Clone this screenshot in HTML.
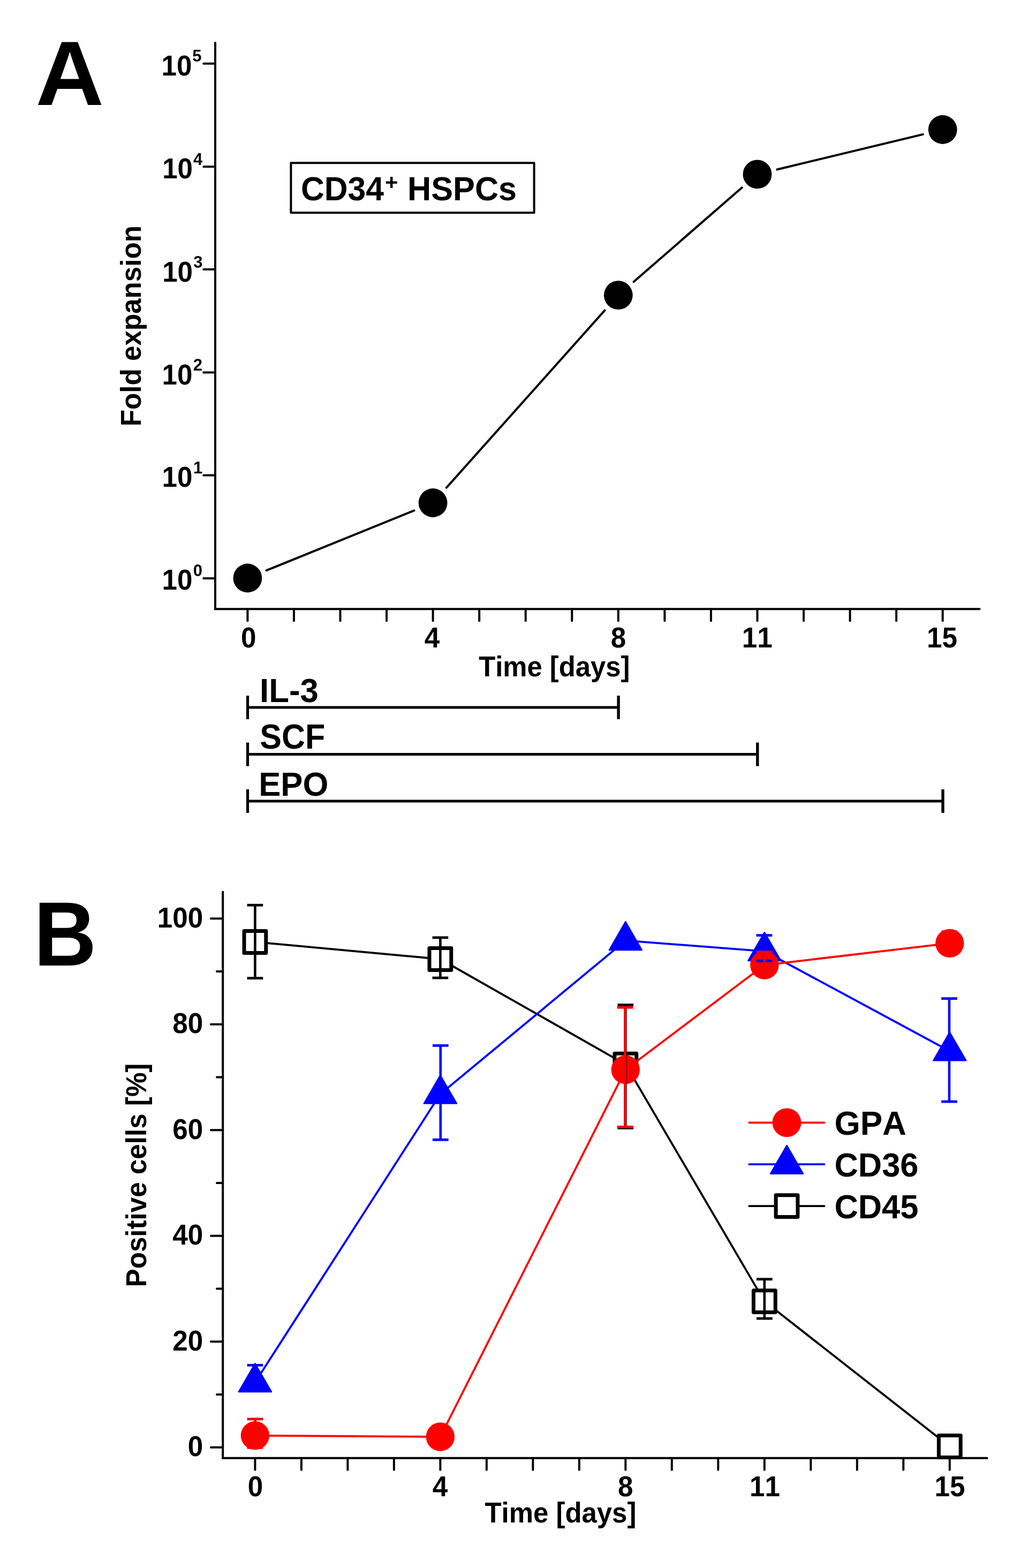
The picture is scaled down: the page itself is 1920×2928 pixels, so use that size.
<!DOCTYPE html>
<html><head><meta charset="utf-8"><title>Figure</title>
<style>html,body{margin:0;padding:0;background:#fff;}svg{display:block;}</style>
</head><body>
<svg width="1920" height="2928" viewBox="0 0 1920 2928" style="font-family:'Liberation Sans',sans-serif;font-weight:bold;font-kerning:none">
<rect width="1920" height="2928" fill="#fff"/>
<text transform="translate(66.40,196.00) scale(1.0290,1)" font-size="171.66" fill="#000">A</text>
<path d="M402.0,80.0 L402.0,1137.2 L1829.5,1137.2" fill="none" stroke="#000" stroke-width="4" stroke-linecap="round" stroke-linejoin="miter"/>
<line x1="380.20" y1="1080.00" x2="402.00" y2="1080.00" stroke="#000" stroke-width="4" stroke-linecap="round"/>
<text transform="translate(302.44,1100.90) scale(0.9500,1)" font-size="53.90" fill="#000">10</text>
<text transform="translate(360.77,1076.00) scale(0.9700,1)" font-size="32.00" fill="#000">0</text>
<line x1="380.20" y1="887.50" x2="402.00" y2="887.50" stroke="#000" stroke-width="4" stroke-linecap="round"/>
<text transform="translate(302.44,908.80) scale(0.9500,1)" font-size="53.90" fill="#000">10</text>
<text transform="translate(360.88,883.80) scale(0.9700,1)" font-size="32.00" fill="#000">1</text>
<line x1="380.20" y1="695.40" x2="402.00" y2="695.40" stroke="#000" stroke-width="4" stroke-linecap="round"/>
<text transform="translate(302.44,717.70) scale(0.9500,1)" font-size="53.90" fill="#000">10</text>
<text transform="translate(360.82,691.60) scale(0.9700,1)" font-size="32.00" fill="#000">2</text>
<line x1="380.20" y1="503.10" x2="402.00" y2="503.10" stroke="#000" stroke-width="4" stroke-linecap="round"/>
<text transform="translate(303.14,525.80) scale(0.9500,1)" font-size="53.90" fill="#000">10</text>
<text transform="translate(361.29,499.50) scale(0.9700,1)" font-size="32.00" fill="#000">3</text>
<line x1="380.20" y1="311.20" x2="402.00" y2="311.20" stroke="#000" stroke-width="4" stroke-linecap="round"/>
<text transform="translate(303.14,332.90) scale(0.9500,1)" font-size="53.90" fill="#000">10</text>
<text transform="translate(361.03,307.50) scale(0.9700,1)" font-size="32.00" fill="#000">4</text>
<line x1="380.20" y1="118.70" x2="402.00" y2="118.70" stroke="#000" stroke-width="4" stroke-linecap="round"/>
<text transform="translate(301.54,140.90) scale(0.9500,1)" font-size="53.90" fill="#000">10</text>
<text transform="translate(359.15,115.10) scale(0.9700,1)" font-size="32.00" fill="#000">5</text>
<line x1="462.40" y1="1137.20" x2="462.40" y2="1159.20" stroke="#000" stroke-width="4" stroke-linecap="round"/>
<line x1="548.95" y1="1137.20" x2="548.95" y2="1159.20" stroke="#000" stroke-width="4" stroke-linecap="round"/>
<line x1="635.50" y1="1137.20" x2="635.50" y2="1159.20" stroke="#000" stroke-width="4" stroke-linecap="round"/>
<line x1="722.05" y1="1137.20" x2="722.05" y2="1159.20" stroke="#000" stroke-width="4" stroke-linecap="round"/>
<line x1="808.60" y1="1137.20" x2="808.60" y2="1159.20" stroke="#000" stroke-width="4" stroke-linecap="round"/>
<line x1="895.15" y1="1137.20" x2="895.15" y2="1159.20" stroke="#000" stroke-width="4" stroke-linecap="round"/>
<line x1="981.70" y1="1137.20" x2="981.70" y2="1159.20" stroke="#000" stroke-width="4" stroke-linecap="round"/>
<line x1="1068.25" y1="1137.20" x2="1068.25" y2="1159.20" stroke="#000" stroke-width="4" stroke-linecap="round"/>
<line x1="1154.80" y1="1137.20" x2="1154.80" y2="1159.20" stroke="#000" stroke-width="4" stroke-linecap="round"/>
<line x1="1241.35" y1="1137.20" x2="1241.35" y2="1159.20" stroke="#000" stroke-width="4" stroke-linecap="round"/>
<line x1="1327.90" y1="1137.20" x2="1327.90" y2="1159.20" stroke="#000" stroke-width="4" stroke-linecap="round"/>
<line x1="1414.45" y1="1137.20" x2="1414.45" y2="1159.20" stroke="#000" stroke-width="4" stroke-linecap="round"/>
<line x1="1501.00" y1="1137.20" x2="1501.00" y2="1159.20" stroke="#000" stroke-width="4" stroke-linecap="round"/>
<line x1="1587.55" y1="1137.20" x2="1587.55" y2="1159.20" stroke="#000" stroke-width="4" stroke-linecap="round"/>
<line x1="1674.10" y1="1137.20" x2="1674.10" y2="1159.20" stroke="#000" stroke-width="4" stroke-linecap="round"/>
<line x1="1760.65" y1="1137.20" x2="1760.65" y2="1159.20" stroke="#000" stroke-width="4" stroke-linecap="round"/>
<text transform="translate(449.90,1209.00) scale(0.9500,1)" font-size="53.90" fill="#000">0</text>
<text transform="translate(792.71,1209.00) scale(0.9500,1)" font-size="53.90" fill="#000">4</text>
<text transform="translate(1140.64,1209.00) scale(0.9500,1)" font-size="53.90" fill="#000">8</text>
<text transform="translate(1385.72,1209.00) scale(0.9500,1)" font-size="53.90" fill="#000">11</text>
<text transform="translate(1731.08,1209.00) scale(0.9500,1)" font-size="53.90" fill="#000">15</text>
<text transform="translate(894.23,1263.30) scale(0.9367,1)" font-size="54.22" fill="#000">Time [days]</text>
<text transform="translate(263.00,796.22) rotate(-90) scale(0.9541,1)" font-size="53.63" fill="#000">Fold expansion</text>
<rect x="543.4" y="304.3" width="454.2" height="92.9" fill="#fff" stroke="#000" stroke-width="4" stroke-linejoin="round"/>
<text transform="translate(561.91,373.60) scale(0.9574,1)" font-size="63.37" fill="#000">CD34</text>
<text transform="translate(718.95,354.14) scale(1.0127,1)" font-size="41.16" fill="#000">+</text>
<text transform="translate(761.11,373.60) scale(0.9659,1)" font-size="63.37" fill="#000">HSPCs</text>
<line x1="497.61" y1="1065.21" x2="773.39" y2="953.29" stroke="#000" stroke-width="4.0" stroke-linecap="round"/>
<line x1="833.91" y1="910.65" x2="1129.49" y2="579.55" stroke="#000" stroke-width="4.0" stroke-linecap="round"/>
<line x1="1183.47" y1="526.26" x2="1385.78" y2="350.34" stroke="#000" stroke-width="4.0" stroke-linecap="round"/>
<line x1="1451.39" y1="316.50" x2="1723.71" y2="250.90" stroke="#000" stroke-width="4.0" stroke-linecap="round"/>
<circle cx="462.40" cy="1079.50" r="26.9" fill="#000"/>
<circle cx="808.60" cy="939.00" r="26.9" fill="#000"/>
<circle cx="1154.80" cy="551.20" r="26.9" fill="#000"/>
<circle cx="1414.45" cy="325.40" r="26.9" fill="#000"/>
<circle cx="1760.65" cy="242.00" r="26.9" fill="#000"/>
<line x1="462.50" y1="1321.00" x2="1154.80" y2="1321.00" stroke="#000" stroke-width="5" stroke-linecap="butt"/>
<line x1="462.50" y1="1299.00" x2="462.50" y2="1343.00" stroke="#000" stroke-width="5.2" stroke-linecap="butt"/>
<line x1="1155.10" y1="1299.00" x2="1155.10" y2="1343.00" stroke="#000" stroke-width="5.4" stroke-linecap="butt"/>
<text transform="translate(485.07,1310.90) scale(0.9685,1)" font-size="63.81" fill="#000">IL-3</text>
<line x1="462.50" y1="1408.60" x2="1414.45" y2="1408.60" stroke="#000" stroke-width="5" stroke-linecap="butt"/>
<line x1="462.50" y1="1386.60" x2="462.50" y2="1430.60" stroke="#000" stroke-width="5.2" stroke-linecap="butt"/>
<line x1="1414.75" y1="1386.60" x2="1414.75" y2="1430.60" stroke="#000" stroke-width="5.4" stroke-linecap="butt"/>
<text transform="translate(485.24,1397.90) scale(0.9508,1)" font-size="64.10" fill="#000">SCF</text>
<line x1="462.50" y1="1495.90" x2="1760.65" y2="1495.90" stroke="#000" stroke-width="5" stroke-linecap="butt"/>
<line x1="462.50" y1="1473.90" x2="462.50" y2="1517.90" stroke="#000" stroke-width="5.2" stroke-linecap="butt"/>
<line x1="1760.95" y1="1473.90" x2="1760.95" y2="1517.90" stroke="#000" stroke-width="5.4" stroke-linecap="butt"/>
<text transform="translate(483.28,1485.80) scale(0.9655,1)" font-size="63.81" fill="#000">EPO</text>
<text transform="translate(63.03,1802.90) scale(0.9482,1)" font-size="171.37" fill="#000">B</text>
<path d="M416.2,1665.5 L416.2,2722.8 L1843.6,2722.8" fill="none" stroke="#000" stroke-width="4" stroke-linecap="round" stroke-linejoin="miter"/>
<line x1="394.00" y1="2702.70" x2="416.20" y2="2702.70" stroke="#000" stroke-width="4" stroke-linecap="round"/>
<text transform="translate(350.82,2719.10) scale(0.9500,1)" font-size="53.90" fill="#000">0</text>
<line x1="405.00" y1="2603.95" x2="416.20" y2="2603.95" stroke="#000" stroke-width="4" stroke-linecap="round"/>
<line x1="394.00" y1="2505.20" x2="416.20" y2="2505.20" stroke="#000" stroke-width="4" stroke-linecap="round"/>
<text transform="translate(322.34,2521.60) scale(0.9500,1)" font-size="53.90" fill="#000">20</text>
<line x1="405.00" y1="2406.45" x2="416.20" y2="2406.45" stroke="#000" stroke-width="4" stroke-linecap="round"/>
<line x1="394.00" y1="2307.70" x2="416.20" y2="2307.70" stroke="#000" stroke-width="4" stroke-linecap="round"/>
<text transform="translate(322.34,2324.10) scale(0.9500,1)" font-size="53.90" fill="#000">40</text>
<line x1="405.00" y1="2208.95" x2="416.20" y2="2208.95" stroke="#000" stroke-width="4" stroke-linecap="round"/>
<line x1="394.00" y1="2110.20" x2="416.20" y2="2110.20" stroke="#000" stroke-width="4" stroke-linecap="round"/>
<text transform="translate(322.34,2126.60) scale(0.9500,1)" font-size="53.90" fill="#000">60</text>
<line x1="405.00" y1="2011.45" x2="416.20" y2="2011.45" stroke="#000" stroke-width="4" stroke-linecap="round"/>
<line x1="394.00" y1="1912.70" x2="416.20" y2="1912.70" stroke="#000" stroke-width="4" stroke-linecap="round"/>
<text transform="translate(322.34,1929.10) scale(0.9500,1)" font-size="53.90" fill="#000">80</text>
<line x1="405.00" y1="1813.95" x2="416.20" y2="1813.95" stroke="#000" stroke-width="4" stroke-linecap="round"/>
<line x1="394.00" y1="1715.20" x2="416.20" y2="1715.20" stroke="#000" stroke-width="4" stroke-linecap="round"/>
<text transform="translate(293.87,1731.60) scale(0.9500,1)" font-size="53.90" fill="#000">100</text>
<line x1="476.40" y1="2722.80" x2="476.40" y2="2744.80" stroke="#000" stroke-width="4" stroke-linecap="round"/>
<line x1="562.89" y1="2722.80" x2="562.89" y2="2744.80" stroke="#000" stroke-width="4" stroke-linecap="round"/>
<line x1="649.38" y1="2722.80" x2="649.38" y2="2744.80" stroke="#000" stroke-width="4" stroke-linecap="round"/>
<line x1="735.87" y1="2722.80" x2="735.87" y2="2744.80" stroke="#000" stroke-width="4" stroke-linecap="round"/>
<line x1="822.36" y1="2722.80" x2="822.36" y2="2744.80" stroke="#000" stroke-width="4" stroke-linecap="round"/>
<line x1="908.85" y1="2722.80" x2="908.85" y2="2744.80" stroke="#000" stroke-width="4" stroke-linecap="round"/>
<line x1="995.34" y1="2722.80" x2="995.34" y2="2744.80" stroke="#000" stroke-width="4" stroke-linecap="round"/>
<line x1="1081.83" y1="2722.80" x2="1081.83" y2="2744.80" stroke="#000" stroke-width="4" stroke-linecap="round"/>
<line x1="1168.32" y1="2722.80" x2="1168.32" y2="2744.80" stroke="#000" stroke-width="4" stroke-linecap="round"/>
<line x1="1254.81" y1="2722.80" x2="1254.81" y2="2744.80" stroke="#000" stroke-width="4" stroke-linecap="round"/>
<line x1="1341.30" y1="2722.80" x2="1341.30" y2="2744.80" stroke="#000" stroke-width="4" stroke-linecap="round"/>
<line x1="1427.79" y1="2722.80" x2="1427.79" y2="2744.80" stroke="#000" stroke-width="4" stroke-linecap="round"/>
<line x1="1514.28" y1="2722.80" x2="1514.28" y2="2744.80" stroke="#000" stroke-width="4" stroke-linecap="round"/>
<line x1="1600.77" y1="2722.80" x2="1600.77" y2="2744.80" stroke="#000" stroke-width="4" stroke-linecap="round"/>
<line x1="1687.26" y1="2722.80" x2="1687.26" y2="2744.80" stroke="#000" stroke-width="4" stroke-linecap="round"/>
<line x1="1773.75" y1="2722.80" x2="1773.75" y2="2744.80" stroke="#000" stroke-width="4" stroke-linecap="round"/>
<text transform="translate(462.85,2794.00) scale(0.9500,1)" font-size="53.90" fill="#000">0</text>
<text transform="translate(807.81,2794.00) scale(0.9500,1)" font-size="53.90" fill="#000">4</text>
<text transform="translate(1154.04,2794.00) scale(0.9500,1)" font-size="53.90" fill="#000">8</text>
<text transform="translate(1399.92,2794.00) scale(0.9500,1)" font-size="53.90" fill="#000">11</text>
<text transform="translate(1745.48,2794.00) scale(0.9500,1)" font-size="53.90" fill="#000">15</text>
<text transform="translate(905.43,2842.90) scale(0.9445,1)" font-size="53.92" fill="#000">Time [days]</text>
<text transform="translate(273.00,2403.42) rotate(-90) scale(0.9539,1)" font-size="53.63" fill="#000">Positive cells [%]</text>
<polyline points="476.40,1759.00 822.36,1791.00 1168.32,1987.60 1427.79,2430.10 1773.75,2701.00" fill="none" stroke="#000" stroke-width="3.8" stroke-linejoin="round"/>
<rect x="456.00" y="1738.60" width="40.8" height="40.8" fill="#fff" stroke="#000" stroke-width="7" stroke-linejoin="round"/>
<rect x="801.96" y="1770.60" width="40.8" height="40.8" fill="#fff" stroke="#000" stroke-width="7" stroke-linejoin="round"/>
<rect x="1147.92" y="1967.20" width="40.8" height="40.8" fill="#fff" stroke="#000" stroke-width="7" stroke-linejoin="round"/>
<rect x="1407.39" y="2409.70" width="40.8" height="40.8" fill="#fff" stroke="#000" stroke-width="7" stroke-linejoin="round"/>
<rect x="1753.35" y="2680.60" width="40.8" height="40.8" fill="#fff" stroke="#000" stroke-width="7" stroke-linejoin="round"/>
<polyline points="476.40,2581.30 822.36,2043.00 1168.32,1756.40 1427.79,1776.30 1773.75,1962.75" fill="none" stroke="#0000ff" stroke-width="3.8" stroke-linejoin="round"/>
<polygon points="476.40,2546.08 445.90,2598.91 506.90,2598.91" fill="#0000ff" stroke="#0000ff" stroke-width="2.5" stroke-linejoin="round"/>
<polygon points="822.36,2007.78 791.86,2060.61 852.86,2060.61" fill="#0000ff" stroke="#0000ff" stroke-width="2.5" stroke-linejoin="round"/>
<polygon points="1168.32,1721.18 1137.82,1774.01 1198.82,1774.01" fill="#0000ff" stroke="#0000ff" stroke-width="2.5" stroke-linejoin="round"/>
<polygon points="1427.79,1741.08 1397.29,1793.91 1458.29,1793.91" fill="#0000ff" stroke="#0000ff" stroke-width="2.5" stroke-linejoin="round"/>
<polygon points="1773.75,1927.53 1743.25,1980.36 1804.25,1980.36" fill="#0000ff" stroke="#0000ff" stroke-width="2.5" stroke-linejoin="round"/>
<polyline points="476.40,2680.60 822.36,2683.00 1168.32,1997.50 1427.79,1802.10 1773.75,1761.40" fill="none" stroke="#ff0000" stroke-width="3.8" stroke-linejoin="round"/>
<circle cx="476.40" cy="2680.60" r="26.7" fill="#ff0000"/>
<circle cx="822.36" cy="2683.00" r="26.7" fill="#ff0000"/>
<circle cx="1168.32" cy="1997.50" r="26.7" fill="#ff0000"/>
<circle cx="1427.79" cy="1802.10" r="26.7" fill="#ff0000"/>
<circle cx="1773.75" cy="1761.40" r="26.7" fill="#ff0000"/>
<line x1="476.40" y1="1690.20" x2="476.40" y2="1826.60" stroke="#000" stroke-width="4.6" stroke-linecap="butt"/>
<line x1="461.55" y1="1690.20" x2="491.25" y2="1690.20" stroke="#000" stroke-width="4.8" stroke-linecap="butt"/>
<line x1="461.55" y1="1826.60" x2="491.25" y2="1826.60" stroke="#000" stroke-width="4.8" stroke-linecap="butt"/>
<line x1="822.36" y1="1750.80" x2="822.36" y2="1826.00" stroke="#000" stroke-width="4.6" stroke-linecap="butt"/>
<line x1="807.51" y1="1750.80" x2="837.21" y2="1750.80" stroke="#000" stroke-width="4.8" stroke-linecap="butt"/>
<line x1="807.51" y1="1826.00" x2="837.21" y2="1826.00" stroke="#000" stroke-width="4.8" stroke-linecap="butt"/>
<line x1="1168.32" y1="1876.50" x2="1168.32" y2="2106.40" stroke="#000" stroke-width="4.6" stroke-linecap="butt"/>
<line x1="1153.47" y1="1876.50" x2="1183.17" y2="1876.50" stroke="#000" stroke-width="4.8" stroke-linecap="butt"/>
<line x1="1153.47" y1="2106.40" x2="1183.17" y2="2106.40" stroke="#000" stroke-width="4.8" stroke-linecap="butt"/>
<line x1="1427.79" y1="2388.70" x2="1427.79" y2="2462.10" stroke="#000" stroke-width="4.6" stroke-linecap="butt"/>
<line x1="1412.94" y1="2388.70" x2="1442.64" y2="2388.70" stroke="#000" stroke-width="4.8" stroke-linecap="butt"/>
<line x1="1412.94" y1="2462.10" x2="1442.64" y2="2462.10" stroke="#000" stroke-width="4.8" stroke-linecap="butt"/>
<line x1="476.40" y1="2549.30" x2="476.40" y2="2581.30" stroke="#0000ff" stroke-width="4.6" stroke-linecap="butt"/>
<line x1="461.55" y1="2549.30" x2="491.25" y2="2549.30" stroke="#0000ff" stroke-width="4.8" stroke-linecap="butt"/>
<line x1="822.76" y1="1952.40" x2="822.76" y2="2128.30" stroke="#0000ff" stroke-width="4.6" stroke-linecap="butt"/>
<line x1="807.91" y1="1952.40" x2="837.61" y2="1952.40" stroke="#0000ff" stroke-width="4.8" stroke-linecap="butt"/>
<line x1="807.91" y1="2128.30" x2="837.61" y2="2128.30" stroke="#0000ff" stroke-width="4.8" stroke-linecap="butt"/>
<line x1="1427.39" y1="1746.60" x2="1427.39" y2="1794.30" stroke="#0000ff" stroke-width="4.6" stroke-linecap="butt"/>
<line x1="1412.54" y1="1746.60" x2="1442.24" y2="1746.60" stroke="#0000ff" stroke-width="4.8" stroke-linecap="butt"/>
<line x1="1412.54" y1="1794.30" x2="1442.24" y2="1794.30" stroke="#0000ff" stroke-width="4.8" stroke-linecap="butt"/>
<line x1="1772.95" y1="1864.60" x2="1772.95" y2="2057.10" stroke="#0000ff" stroke-width="4.6" stroke-linecap="butt"/>
<line x1="1758.10" y1="1864.60" x2="1787.80" y2="1864.60" stroke="#0000ff" stroke-width="4.8" stroke-linecap="butt"/>
<line x1="1758.10" y1="2057.10" x2="1787.80" y2="2057.10" stroke="#0000ff" stroke-width="4.8" stroke-linecap="butt"/>
<line x1="476.40" y1="2649.90" x2="476.40" y2="2703.30" stroke="#ff0000" stroke-width="4.6" stroke-linecap="butt"/>
<line x1="461.55" y1="2649.90" x2="491.25" y2="2649.90" stroke="#ff0000" stroke-width="4.8" stroke-linecap="butt"/>
<line x1="461.55" y1="2703.30" x2="491.25" y2="2703.30" stroke="#ff0000" stroke-width="4.8" stroke-linecap="butt"/>
<line x1="1167.42" y1="1881.20" x2="1167.42" y2="2104.40" stroke="#ff0000" stroke-width="4.6" stroke-linecap="butt"/>
<line x1="1152.57" y1="1881.20" x2="1182.27" y2="1881.20" stroke="#ff0000" stroke-width="4.8" stroke-linecap="butt"/>
<line x1="1152.57" y1="2104.40" x2="1182.27" y2="2104.40" stroke="#ff0000" stroke-width="4.8" stroke-linecap="butt"/>
<line x1="1427.79" y1="1777.80" x2="1427.79" y2="1802.10" stroke="#ff0000" stroke-width="4.6" stroke-linecap="butt"/>
<line x1="1412.94" y1="1777.80" x2="1442.64" y2="1777.80" stroke="#ff0000" stroke-width="4.8" stroke-linecap="butt"/>
<line x1="1773.25" y1="1739.80" x2="1773.25" y2="1761.40" stroke="#ff0000" stroke-width="4.6" stroke-linecap="butt"/>
<line x1="1758.40" y1="1739.80" x2="1788.10" y2="1739.80" stroke="#ff0000" stroke-width="4.8" stroke-linecap="butt"/>
<line x1="1399.30" y1="2096.30" x2="1539.40" y2="2096.30" stroke="#ff0000" stroke-width="3.8" stroke-linecap="round"/>
<circle cx="1469.5" cy="2096.3" r="26.9" fill="#ff0000"/>
<text transform="translate(1558.45,2118.90) scale(0.9726,1)" font-size="63.81" fill="#000">GPA</text>
<line x1="1399.30" y1="2174.20" x2="1539.40" y2="2174.20" stroke="#0000ff" stroke-width="3.8" stroke-linecap="round"/>
<polygon points="1469.50,2138.98 1439.00,2191.81 1500.00,2191.81" fill="#0000ff" stroke="#0000ff" stroke-width="2.5" stroke-linejoin="round"/>
<text transform="translate(1558.48,2196.80) scale(0.9760,1)" font-size="62.94" fill="#000">CD36</text>
<line x1="1399.30" y1="2252.20" x2="1539.40" y2="2252.20" stroke="#000" stroke-width="3.8" stroke-linecap="round"/>
<rect x="1449.10" y="2231.80" width="40.8" height="40.8" fill="#fff" stroke="#000" stroke-width="7" stroke-linejoin="round"/>
<text transform="translate(1558.48,2274.80) scale(0.9708,1)" font-size="63.23" fill="#000">CD45</text>
</svg>
</body></html>
